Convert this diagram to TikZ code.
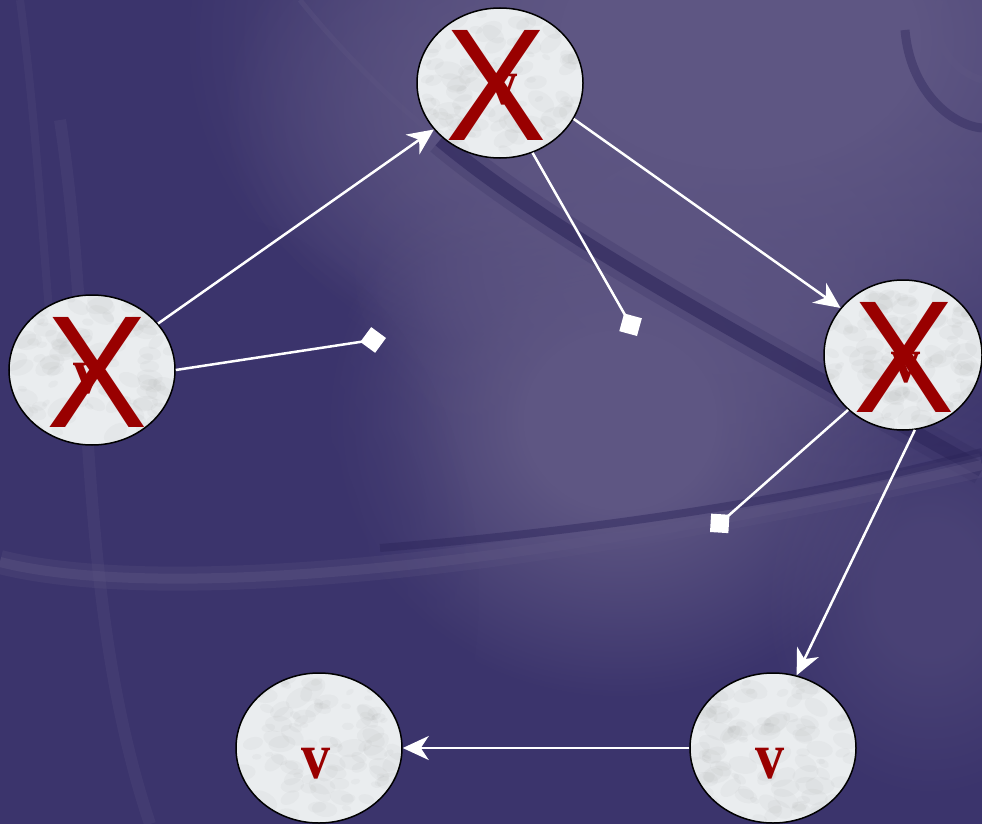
\documentclass[tikz,border=0pt]{standalone}
\usepackage{fontspec}
\usetikzlibrary{shapes.geometric,arrows.meta,calc,fadings}
\newfontfamily\xfont{Liberation Sans}
\newfontfamily\vfont{Liberation Serif}
\definecolor{bgdark}{RGB}{59,52,108}
\definecolor{bglight}{RGB}{94,86,131}
\definecolor{banddark}{RGB}{44,37,90}
\definecolor{xred}{RGB}{153,0,0}
\definecolor{marble}{RGB}{234,237,239}
\pgfdeclareradialshading{softsh}{\pgfpointorigin}{color(0bp)=(white); color(8bp)=(white); color(25bp)=(black); color(50bp)=(black)}
\pgfdeclarefading{softfade}{\pgfuseshading{softsh}}
\tikzset{
  vnode/.style={ellipse, draw=black, line width=1.5pt, fill=marble,
    minimum width=166pt, minimum height=150pt, inner sep=0pt,
    path picture={
      \foreach \i in {1,...,110}{
        \pgfmathsetmacro{\px}{rand*80}
        \pgfmathsetmacro{\py}{rand*72}
        \pgfmathsetmacro{\rr}{4+11*rnd}
        \pgfmathsetmacro{\rot}{rand*40}
        \fill[black!50, opacity=0.05]
          ([shift={(\px pt,\py pt)}]path picture bounding box.center)
          ellipse [x radius=\rr pt, y radius=0.6*\rr pt, rotate=\rot];
      }
    }},
  vlabel/.style={font=\vfont\bfseries\fontsize{66}{66}\selectfont, text=xred, inner sep=0pt, anchor=base, xscale=0.88},
  xmark/.style={font=\xfont\fontsize{160}{160}\selectfont, text=xred, inner sep=0pt, xscale=0.95},
  edge/.style={draw=white, line width=2.5pt, -{Stealth[length=26pt,width=24pt,inset=8pt]}},
  stub/.style={draw=white, line width=2.5pt, -{Diamond[length=26pt,width=26pt]}},
  glow/.style={fill=bglight, path fading=softfade},
}
\begin{document}
\pgfmathsetseed{42}
\begin{tikzpicture}[x=1pt,y=-1pt]
\useasboundingbox (0,0) rectangle (982,824);
% background
\fill[bgdark] (0,0) rectangle (982,824);
\fill[glow] (740,40) ellipse [x radius=560pt, y radius=400pt];
\fill[glow, opacity=.7] (520,110) ellipse [x radius=300pt, y radius=240pt];
\fill[glow] (620,420) ellipse [x radius=300pt, y radius=280pt];
\fill[glow, opacity=.6] (720,260) ellipse [x radius=380pt, y radius=260pt];
\fill[glow, opacity=.4] (930,590) ellipse [x radius=170pt, y radius=210pt];
\fill[bgdark, path fading=softfade, opacity=.9] (190,590) ellipse [x radius=290pt, y radius=380pt];
% dark diagonal band and its light edge
\draw[bglight, line width=5pt, opacity=.35] (300,0) .. controls (340,50) and (390,100) .. (440,140);
\draw[banddark, line width=30pt, opacity=.2] (440,140) .. controls (560,240) and (760,345) .. (982,470);
\draw[banddark, line width=14pt, opacity=.55] (440,140) .. controls (560,240) and (760,345) .. (982,470);
% lower arcs
\draw[bglight, line width=24pt, opacity=.25] (0,562) .. controls (150,600) and (500,575) .. (982,465);
\draw[bglight, line width=10pt, opacity=.4] (0,562) .. controls (150,600) and (500,575) .. (982,465);
\draw[banddark, line width=8pt, opacity=.45] (380,548) .. controls (600,530) and (800,500) .. (982,452);
% faint streaks left
\draw[bglight, line width=12pt, opacity=.22] (60,120) .. controls (95,350) and (75,600) .. (150,824);
\draw[bglight, line width=8pt, opacity=.18] (20,0) .. controls (40,150) and (45,300) .. (60,420);
% top right ring
\draw[banddark, line width=9pt, opacity=.4] (905,30) .. controls (910,90) and (950,125) .. (982,128);
\draw[bglight, line width=7pt, opacity=.4] (940,0) .. controls (930,40) and (950,70) .. (982,80);
% nodes
\node[vnode] (A) at (500,83) {};
\node[vnode] (B) at (92,370) {};
\node[vnode, minimum width=158pt] (C) at (903,355) {};
\node[vnode] (D) at (319,748) {};
\node[vnode] (E) at (773,748) {};
% labels
\node[vlabel] (vA) at (503,105) {v};
\node[vlabel] (vB) at (88,393) {v};
\node[vlabel] (vC) at (906,382) {v};
\node[vlabel] (vD) at (316,778) {v};
\node[vlabel] (vE) at (770,778) {v};
% connectors
\draw[edge] (B) -- (A);
\draw[edge] (A.-26) -- (C.143);
\draw[edge] (C.-81) -- (E.72);
\draw[edge] (E) -- (D);
\coordinate (pB) at (386,338);
\coordinate (pA) at (637,336);
\coordinate (pC) at (710,532);
\draw[stub] (B.east) -- (pB);
\draw[stub] (A.-65) -- (pA);
\draw[stub] (C.225) -- (pC);
% X marks
\node[xmark] (xA) at (496,85) {X};
\node[xmark] (xB) at (97,372) {X};
\node[xmark] (xC) at (904,357) {X};
\end{tikzpicture}
\end{document}
